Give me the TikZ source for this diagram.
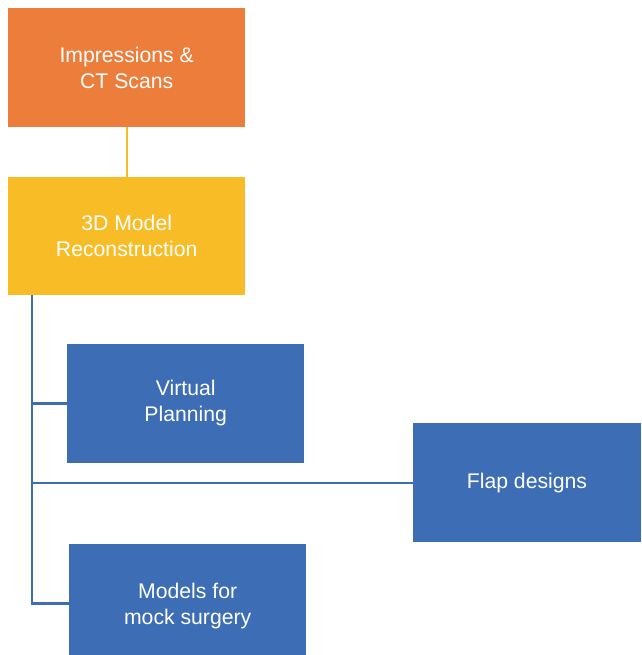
\documentclass[tikz,border=0pt]{standalone}
\usepackage{fontspec}
\setmainfont{Liberation Sans}
\definecolor{cOrange}{HTML}{EC7D3B}
\definecolor{cYellow}{HTML}{F8BC26}
\definecolor{cBlue}{HTML}{3D6EB5}
\begin{document}
\begin{tikzpicture}[x=1pt,y=-1pt,
  boxstyle/.style={anchor=north west, inner sep=0pt, align=center, text=white,
    font=\fontsize{21.2}{26}\selectfont},
  bluelink/.style={draw=cBlue, line width=2.3pt},
]
\useasboundingbox (0,0) rectangle (641,655);
\node[boxstyle, fill=cOrange, minimum width=237pt, minimum height=118.5pt] (imp) at (8,8) {Impressions \&\\CT Scans};
\node[boxstyle, fill=cYellow, minimum width=237pt, minimum height=118pt] (rec) at (8,176.5) {3D Model\\Reconstruction};
\node[boxstyle, fill=cBlue, minimum width=237pt, minimum height=118.5pt] (vp) at (67,344) {Virtual\\Planning};
\node[boxstyle, fill=cBlue, minimum width=228.5pt, minimum height=119pt] (flap) at (412.5,423) {Flap designs};
\node[boxstyle, fill=cBlue, minimum width=237pt, minimum height=124pt] (mock) at (69,544) {Models for\\mock surgery};
\draw[draw=cYellow, line width=2pt] (imp.south) -- (rec.north);
\coordinate (top) at (32,294.5);
\coordinate (bend) at (32,603.5);
\draw[bluelink] (top) -- (bend) -- (mock.west |- bend);
\draw[bluelink] (top |- vp.west) -- (vp.west);
\draw[bluelink] (top |- flap.west) -- (flap.west);
\end{tikzpicture}
\end{document}
